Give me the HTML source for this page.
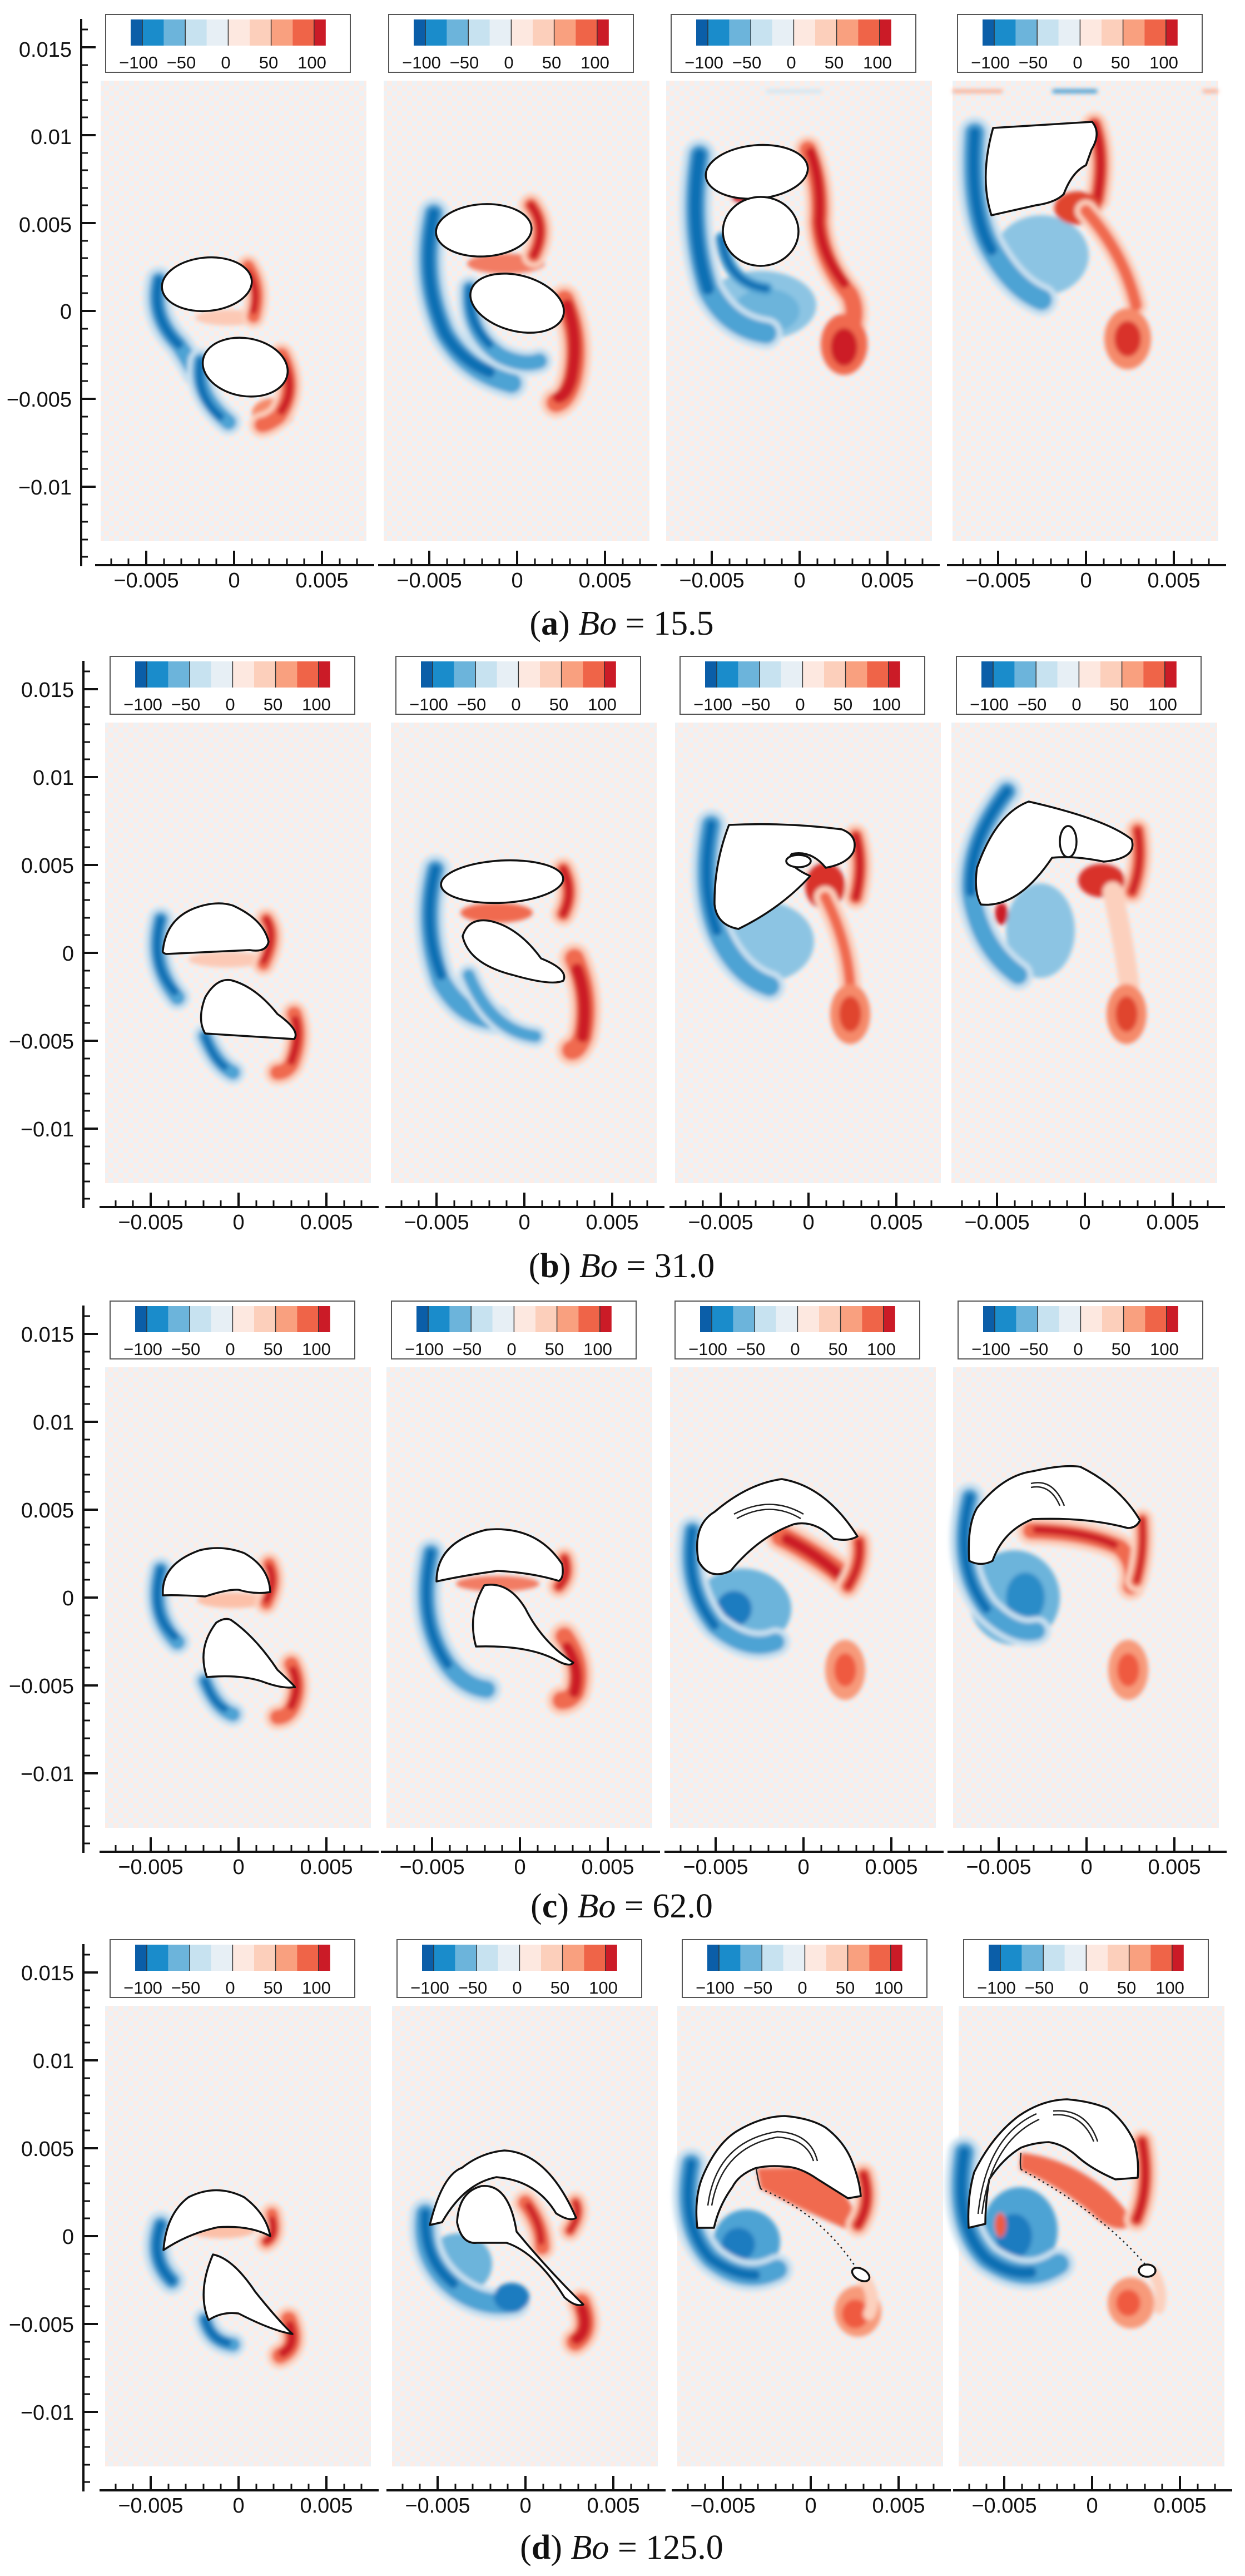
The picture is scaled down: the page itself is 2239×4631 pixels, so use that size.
<!DOCTYPE html>
<html><head><meta charset="utf-8"><style>
html,body{margin:0;padding:0;background:#fff}
svg{display:block}
.ax{fill:none;stroke:#111;stroke-width:4}
.tk{fill:none;stroke:#111;stroke-width:3}
.bo{fill:none;stroke:#c8e0f0;stroke-linecap:round;stroke-linejoin:round}
.bm{fill:none;stroke:#4ea3d4;stroke-linecap:round;stroke-linejoin:round}
.bi{fill:none;stroke:#0f6fb4;stroke-linecap:round;stroke-linejoin:round}
.ro{fill:none;stroke:#fcd0bd;stroke-linecap:round;stroke-linejoin:round}
.rm{fill:none;stroke:#f06a4f;stroke-linecap:round;stroke-linejoin:round}
.ri{fill:none;stroke:#cc1a26;stroke-linecap:round;stroke-linejoin:round}
.bub{fill:#fff;stroke:#111;stroke-width:3.5;stroke-linejoin:round}
.sl{fill:none;stroke:#222;stroke-width:2.5}
.dot{fill:none;stroke:#222;stroke-width:2.5;stroke-dasharray:3 6}
.lb{font-family:"Liberation Sans",sans-serif;font-size:38px;fill:#111}
.cl{font-family:"Liberation Sans",sans-serif;font-size:31px;fill:#111;text-anchor:middle}
.cap{font-family:"Liberation Serif",serif;font-size:62px;fill:#111;text-anchor:middle}
</style></head><body>
<svg width="2239" height="4631" viewBox="0 0 2239 4631" xmlns="http://www.w3.org/2000/svg">
<defs>
<pattern id="bg" width="18" height="18" patternUnits="userSpaceOnUse">
<rect width="18" height="18" fill="#ebf2f7"/>
<rect x="0" y="0" width="9" height="9" fill="#fdece5"/>
<rect x="9" y="9" width="9" height="9" fill="#fdece5"/>
</pattern>
<filter id="bl" x="-20%" y="-20%" width="140%" height="140%"><feGaussianBlur stdDeviation="4"/></filter>
<g id="xax">
<path class="ax" d="M-250 0H252"/>
<path class="tk" d="M-221 0v-12M-190 0v-12M-126 0v-12M-95 0v-12M-63 0v-12M-32 0v-12M32 0v-12M63 0v-12M95 0v-12M126 0v-12M190 0v-12M221 0v-12"/>
<path class="ax" d="M-158 0v-26M0 0v-26M158 0v-26"/>
</g>
<g id="yax">
<path class="ax" d="M0 -525V459"/>
<path class="tk" d="M0 -506h12M0 -442h12M0 -411h12M0 -379h12M0 -348h12M0 -284h12M0 -253h12M0 -221h12M0 -190h12M0 -126h12M0 -95h12M0 -63h12M0 -32h12M0 32h12M0 63h12M0 95h12M0 126h12M0 190h12M0 221h12M0 253h12M0 284h12M0 348h12M0 379h12M0 411h12M0 442h12"/>
<path class="ax" d="M0 -474h26M0 -316h26M0 -158h26M0 0h26M0 158h26M0 316h26"/>
</g>
<g id="cb">
<rect x="-231" y="-533" width="440" height="104" fill="#fff" stroke="#555" stroke-width="2"/>
<rect x="-186" y="-524" width="21" height="47" fill="#0b5ea8"/>
<rect x="-165" y="-524" width="38.6" height="47" fill="#1a8ccb"/>
<rect x="-126.4" y="-524" width="38.6" height="47" fill="#6cb4db"/>
<rect x="-87.8" y="-524" width="38.6" height="47" fill="#c7e2f0"/>
<rect x="-49.2" y="-524" width="38.6" height="47" fill="#e7eff5"/>
<rect x="-10.6" y="-524" width="38.6" height="47" fill="#fde8e0"/>
<rect x="28" y="-524" width="38.6" height="47" fill="#fccfbb"/>
<rect x="66.6" y="-524" width="38.6" height="47" fill="#f9a07f"/>
<rect x="105.2" y="-524" width="38.6" height="47" fill="#ef6448"/>
<rect x="143.8" y="-524" width="21" height="47" fill="#cb1b27"/>
<path d="M-165 -524v47M-87.8 -524v47M-10.6 -524v47M66.6 -524v47M143.8 -524v47" stroke="#333" stroke-width="1.5"/>
</g>
<g id="fr">
<rect x="-240" y="-414" width="478" height="828" fill="url(#bg)"/>
<use href="#cb"/>
<use href="#xax" y="457"/>
<text class="lb" x="-158" y="497" text-anchor="middle">−0.005</text>
<text class="lb" x="0" y="497" text-anchor="middle">0</text>
<text class="lb" x="158" y="497" text-anchor="middle">0.005</text>
<text class="cl" x="-172" y="-436">−100</text>
<text class="cl" x="-95" y="-436">−50</text>
<text class="cl" x="-15" y="-436">0</text>
<text class="cl" x="62" y="-436">50</text>
<text class="cl" x="140" y="-436">100</text>
</g>
</defs>

<g transform="translate(146,559)"><use href="#yax"/></g>
<g transform="translate(150,1713)"><use href="#yax"/></g>
<g transform="translate(150,2872)"><use href="#yax"/></g>
<g transform="translate(150,4020)"><use href="#yax"/></g>
<g class="lb" text-anchor="end">
<text x="129" y="102">0.015</text><text x="129" y="259">0.01</text><text x="129" y="417">0.005</text><text x="129" y="573">0</text><text x="129" y="731">−0.005</text><text x="129" y="889">−0.01</text>
<text x="133" y="1253">0.015</text><text x="133" y="1411">0.01</text><text x="133" y="1569">0.005</text><text x="133" y="1727">0</text><text x="133" y="1885">−0.005</text><text x="133" y="2043">−0.01</text>
<text x="133" y="2412">0.015</text><text x="133" y="2570">0.01</text><text x="133" y="2728">0.005</text><text x="133" y="2886">0</text><text x="133" y="3044">−0.005</text><text x="133" y="3202">−0.01</text>
<text x="133" y="3560">0.015</text><text x="133" y="3718">0.01</text><text x="133" y="3876">0.005</text><text x="133" y="4034">0</text><text x="133" y="4192">−0.005</text><text x="133" y="4350">−0.01</text>
</g>

<!-- ROW A -->
<g transform="translate(421,559)"><use href="#fr"/>
<g filter="url(#bl)">
<ellipse cx="-10" cy="12" rx="60" ry="14" fill="#fcc9b5"/>
<path class="bo" stroke-width="50" d="M-135 -55Q-150 10 -100 60Q-80 90 -70 110"/><path class="bm" stroke-width="30" d="M-135 -55Q-150 10 -100 60Q-80 90 -70 110"/><path class="bi" stroke-width="16" d="M-135 -55Q-150 10 -100 60"/>
<path class="bo" stroke-width="46" d="M-60 90Q-70 150 -10 200"/><path class="bm" stroke-width="28" d="M-60 90Q-70 150 -10 200"/><path class="bi" stroke-width="14" d="M-60 90Q-70 150 -25 190"/>
<path class="ro" stroke-width="42" d="M25 -80Q50 -40 35 10"/><path class="rm" stroke-width="24" d="M25 -80Q50 -40 35 10"/><path class="ri" stroke-width="12" d="M25 -70Q45 -40 35 0"/>
<ellipse cx="70" cy="185" rx="38" ry="28" fill="#f58a6a"/>
<path class="ro" stroke-width="46" d="M85 80Q115 140 80 190Q60 205 50 205"/><path class="rm" stroke-width="28" d="M85 80Q115 140 80 190Q60 205 50 205"/><path class="ri" stroke-width="14" d="M88 90Q112 140 85 180"/>
</g>
<ellipse class="bub" cx="-49" cy="-48" rx="81" ry="48" transform="rotate(-5 -49 -48)"/>
<ellipse class="bub" cx="20" cy="101" rx="77" ry="52" transform="rotate(10 20 101)"/>
</g>

<g transform="translate(930,559)"><use href="#fr"/>
<g filter="url(#bl)">
<ellipse cx="-20" cy="-85" rx="70" ry="18" fill="#f27c64"/>
<path class="bo" stroke-width="56" d="M-150 -175Q-175 -60 -130 40Q-90 110 -10 130"/><path class="bm" stroke-width="36" d="M-150 -175Q-175 -60 -130 40Q-90 110 -10 130"/><path class="bi" stroke-width="20" d="M-150 -175Q-175 -60 -130 40Q-100 90 -50 110"/>
<path class="bo" stroke-width="46" d="M-85 -40Q-90 40 -30 80Q10 100 40 90"/><path class="bm" stroke-width="28" d="M-85 -40Q-90 40 -30 80Q10 100 40 90"/><path class="bi" stroke-width="14" d="M-85 -40Q-90 20 -50 60"/>
<path class="ro" stroke-width="44" d="M25 -190Q55 -150 30 -100"/><path class="rm" stroke-width="26" d="M25 -190Q55 -150 30 -100"/><path class="ri" stroke-width="14" d="M25 -190Q55 -150 30 -100"/>
<path class="ro" stroke-width="56" d="M85 -20Q115 50 100 120Q90 160 70 165"/><path class="rm" stroke-width="36" d="M85 -20Q115 50 100 120Q90 160 70 165"/><path class="ri" stroke-width="22" d="M90 -10Q112 50 98 120Q90 150 75 155"/>
</g>
<ellipse class="bub" cx="-60" cy="-145" rx="86" ry="47" transform="rotate(-3 -60 -145)"/>
<ellipse class="bub" cx="0" cy="-14" rx="86" ry="50" transform="rotate(15 0 -14)"/>
</g>

<g transform="translate(1438,559)"><use href="#fr"/>
<g filter="url(#bl)">
<ellipse cx="-70" cy="-10" rx="100" ry="62" fill="#8cc4e3"/>
<ellipse cx="-60" cy="0" rx="60" ry="40" fill="#6cb4db"/>
<path class="bo" stroke-width="58" d="M-180 -280Q-200 -150 -165 -40Q-130 30 -60 40"/><path class="bm" stroke-width="38" d="M-180 -280Q-200 -150 -165 -40Q-130 30 -60 40"/><path class="bi" stroke-width="22" d="M-180 -280Q-200 -150 -165 -40"/>
<path class="bm" stroke-width="24" d="M-140 -130Q-130 -50 -60 -40"/><path class="bi" stroke-width="12" d="M-140 -130Q-130 -50 -60 -40"/>
<path class="ro" stroke-width="50" d="M15 -290Q40 -230 35 -160Q40 -90 90 -30Q110 10 80 60"/><path class="rm" stroke-width="32" d="M15 -290Q40 -230 35 -160Q40 -90 90 -30Q110 10 80 60"/><path class="ri" stroke-width="18" d="M20 -285Q40 -230 35 -160Q40 -100 80 -50"/>
<ellipse cx="80" cy="60" rx="42" ry="55" fill="#f06a4f"/><ellipse cx="80" cy="65" rx="24" ry="34" fill="#cc1a26"/>
<ellipse cx="-105" cy="-205" rx="16" ry="10" fill="#cc1a26"/>
<path d="M-60 -395H40" stroke="#c7e2f0" stroke-width="5"/>
</g>
<ellipse class="bub" cx="-77" cy="-250" rx="92" ry="48" transform="rotate(-5 -77 -250)"/>
<ellipse class="bub" cx="-70" cy="-143" rx="68" ry="62"/>
</g>

<g transform="translate(1953,559)"><use href="#fr"/>
<g filter="url(#bl)">
<path d="M-240 -395H-150" stroke="#f79a7a" stroke-width="5"/><path d="M-60 -395H20" stroke="#2b8cc8" stroke-width="6"/><path d="M210 -395H238" stroke="#f79a7a" stroke-width="5"/>
<ellipse cx="-80" cy="-100" rx="85" ry="72" fill="#8cc4e3"/>
<path class="bo" stroke-width="58" d="M-200 -320Q-210 -180 -170 -110Q-130 -40 -80 -20"/><path class="bm" stroke-width="38" d="M-200 -320Q-210 -180 -170 -110Q-130 -40 -80 -20"/><path class="bi" stroke-width="20" d="M-200 -320Q-210 -180 -170 -110"/>
<path class="ro" stroke-width="46" d="M15 -335Q35 -280 20 -200"/><path class="rm" stroke-width="28" d="M15 -335Q35 -280 20 -200"/><path class="ri" stroke-width="16" d="M15 -335Q35 -280 20 -200"/>
<ellipse cx="-15" cy="-185" rx="42" ry="30" fill="#e0452f"/>
<path class="ro" stroke-width="40" d="M0 -180Q70 -100 90 -10"/><path class="rm" stroke-width="22" d="M0 -180Q70 -100 90 -10"/>
<ellipse cx="75" cy="50" rx="42" ry="55" fill="#f58a6a"/><ellipse cx="75" cy="50" rx="24" ry="32" fill="#d9302b"/>
</g>
<path class="bub" d="M-167 -329L11 -340Q28 -320 10 -290L0 -262Q-25 -250 -40 -210Q-55 -195 -90 -190L-170 -172Q-192 -240 -167 -329Z"/>
</g>

<!-- ROW B -->
<g transform="translate(429,1713)"><use href="#fr"/>
<g filter="url(#bl)">
<ellipse cx="-20" cy="12" rx="70" ry="14" fill="#fcc9b5"/>
<path class="bo" stroke-width="46" d="M-140 -60Q-160 20 -110 80"/><path class="bm" stroke-width="28" d="M-140 -60Q-160 20 -110 80"/><path class="bi" stroke-width="14" d="M-140 -60Q-160 20 -115 70"/>
<path class="bo" stroke-width="44" d="M-60 150Q-40 200 -10 215"/><path class="bm" stroke-width="26" d="M-60 150Q-40 200 -10 215"/><path class="bi" stroke-width="12" d="M-60 150Q-45 190 -25 205"/>
<path class="ro" stroke-width="42" d="M50 -60Q70 -30 45 20"/><path class="rm" stroke-width="24" d="M50 -60Q70 -30 45 20"/><path class="ri" stroke-width="12" d="M50 -60Q68 -30 45 15"/>
<path class="ro" stroke-width="46" d="M100 110Q115 150 95 200Q85 215 70 215"/><path class="rm" stroke-width="28" d="M100 110Q115 150 95 200Q85 215 70 215"/><path class="ri" stroke-width="14" d="M102 120Q112 150 95 195"/>
</g>
<path class="bub" d="M-136 -5Q-130 -60 -80 -80Q-40 -95 -10 -85Q45 -60 54 -20Q50 0 20 -5L-130 2Q-138 0 -136 -5Z"/>
<path class="bub" d="M-14 49Q30 60 70 110Q112 140 100 155L-60 145Q-75 120 -60 80Q-40 45 -14 49Z"/>
</g>

<g transform="translate(943,1713)"><use href="#fr"/>
<g filter="url(#bl)">
<ellipse cx="-50" cy="-72" rx="65" ry="18" fill="#f06a4f"/>
<path class="bo" stroke-width="54" d="M-160 -150Q-185 -50 -150 50Q-110 120 -50 120"/><path class="bm" stroke-width="34" d="M-160 -150Q-185 -50 -150 50Q-110 120 -50 120"/><path class="bi" stroke-width="18" d="M-160 -150Q-185 -50 -150 40"/>
<path class="bo" stroke-width="40" d="M-100 40Q-60 140 20 150"/><path class="bm" stroke-width="22" d="M-100 40Q-60 140 20 150"/>
<path class="ro" stroke-width="44" d="M70 -150Q90 -110 70 -70"/><path class="rm" stroke-width="26" d="M70 -150Q90 -110 70 -70"/><path class="ri" stroke-width="14" d="M70 -150Q90 -110 70 -70"/>
<path class="ro" stroke-width="56" d="M90 10Q120 80 105 150Q95 175 85 175"/><path class="rm" stroke-width="36" d="M90 10Q120 80 105 150Q95 175 85 175"/><path class="ri" stroke-width="22" d="M95 30Q115 80 105 150"/>
</g>
<ellipse class="bub" cx="-40" cy="-128" rx="110" ry="38" transform="rotate(-3 -40 -128)"/>
<path class="bub" d="M-111 -30Q-100 -65 -60 -57Q-10 -45 30 10Q80 30 70 50Q50 60 -20 40Q-100 20 -111 -30Z"/>
</g>

<g transform="translate(1454,1713)"><use href="#fr"/>
<g filter="url(#bl)">
<ellipse cx="-80" cy="-20" rx="90" ry="72" fill="#8cc4e3"/>
<path class="bo" stroke-width="56" d="M-175 -230Q-195 -120 -165 -40Q-130 40 -70 60"/><path class="bm" stroke-width="36" d="M-175 -230Q-195 -120 -165 -40Q-130 40 -70 60"/><path class="bi" stroke-width="18" d="M-175 -230Q-195 -120 -165 -40"/>
<path class="ro" stroke-width="44" d="M85 -210Q100 -160 85 -100"/><path class="rm" stroke-width="26" d="M85 -210Q100 -160 85 -100"/><path class="ri" stroke-width="14" d="M85 -210Q100 -160 85 -100"/>
<ellipse cx="30" cy="-120" rx="36" ry="42" fill="#d9302b"/>
<path class="ro" stroke-width="40" d="M30 -100Q70 -20 75 60"/><path class="rm" stroke-width="20" d="M30 -100Q70 -20 75 60"/>
<ellipse cx="75" cy="110" rx="36" ry="54" fill="#f58a6a"/><ellipse cx="75" cy="110" rx="20" ry="32" fill="#e0452f"/>
</g>
<path class="bub" d="M-143 -230Q-40 -235 60 -222Q90 -210 81 -182Q70 -160 31 -153Q5 -185 -30 -178Q-45 -160 3 -138Q-50 -80 -126 -43Q-165 -50 -169 -87Q-170 -160 -143 -230Z"/>
<ellipse class="bub" cx="-18" cy="-165" rx="22" ry="11"/>
</g>

<g transform="translate(1951,1713)"><use href="#fr"/>
<g filter="url(#bl)">
<ellipse cx="-80" cy="-40" rx="62" ry="85" fill="#8cc4e3"/>
<path class="bo" stroke-width="54" d="M-140 -290Q-210 -200 -205 -110Q-190 -10 -120 40"/><path class="bm" stroke-width="34" d="M-140 -290Q-210 -200 -205 -110Q-190 -10 -120 40"/><path class="bi" stroke-width="18" d="M-140 -290Q-210 -200 -205 -110"/>
<path class="ro" stroke-width="44" d="M95 -220Q105 -160 85 -110"/><path class="rm" stroke-width="26" d="M95 -220Q105 -160 85 -110"/><path class="ri" stroke-width="12" d="M95 -220Q105 -160 85 -110"/>
<ellipse cx="30" cy="-130" rx="42" ry="30" fill="#d9302b"/>
<ellipse cx="-150" cy="-70" rx="12" ry="20" fill="#cc1a26"/>
<path class="ro" stroke-width="36" d="M50 -110Q70 -20 80 60"/>
<ellipse cx="75" cy="110" rx="36" ry="54" fill="#f58a6a"/><ellipse cx="75" cy="110" rx="20" ry="32" fill="#e0452f"/>
</g>
<path class="bub" d="M-101 -272Q40 -240 84 -204Q95 -170 34 -164Q-20 -175 -59 -171Q-120 -80 -187 -87Q-200 -110 -194 -153Q-160 -250 -101 -272Z"/>
<ellipse class="bub" cx="-30" cy="-200" rx="15" ry="28"/>
</g>

<!-- ROW C -->
<g transform="translate(429,2872)"><use href="#fr"/>
<g filter="url(#bl)">
<ellipse cx="-10" cy="5" rx="65" ry="14" fill="#fcc0a8"/>
<path class="bo" stroke-width="46" d="M-140 -50Q-160 30 -110 80"/><path class="bm" stroke-width="28" d="M-140 -50Q-160 30 -110 80"/><path class="bi" stroke-width="14" d="M-140 -50Q-160 30 -115 70"/>
<path class="bo" stroke-width="44" d="M-60 150Q-40 200 -10 210"/><path class="bm" stroke-width="26" d="M-60 150Q-40 200 -10 210"/><path class="bi" stroke-width="12" d="M-60 150Q-45 190 -25 200"/>
<path class="ro" stroke-width="42" d="M55 -60Q70 -30 50 10"/><path class="rm" stroke-width="24" d="M55 -60Q70 -30 50 10"/><path class="ri" stroke-width="12" d="M55 -55Q68 -30 50 5"/>
<path class="ro" stroke-width="46" d="M95 120Q115 160 95 200Q85 215 70 215"/><path class="rm" stroke-width="28" d="M95 120Q115 160 95 200Q85 215 70 215"/><path class="ri" stroke-width="14" d="M98 130Q112 160 95 195"/>
</g>
<path class="bub" d="M-136 -4Q-140 -60 -70 -85Q-30 -95 10 -80Q55 -55 57 -10Q30 -5 0 -14Q-20 -15 -60 -2Q-110 -5 -136 -4Z"/>
<path class="bub" d="M-14 40Q30 70 70 130Q108 165 100 161Q80 165 40 150Q0 138 -57 143Q-75 90 -40 45Q-25 35 -14 40Z"/>
</g>

<g transform="translate(935,2872)"><use href="#fr"/>
<g filter="url(#bl)">
<ellipse cx="-40" cy="-25" rx="75" ry="14" fill="#f27c64"/>
<path class="bo" stroke-width="52" d="M-160 -80Q-185 40 -130 120Q-100 160 -60 165"/><path class="bm" stroke-width="32" d="M-160 -80Q-185 40 -130 120Q-100 160 -60 165"/><path class="bi" stroke-width="16" d="M-160 -80Q-185 40 -130 120"/>
<path class="ro" stroke-width="42" d="M80 -70Q90 -40 70 -20"/><path class="rm" stroke-width="24" d="M80 -70Q90 -40 70 -20"/><path class="ri" stroke-width="12" d="M80 -70Q90 -40 70 -20"/>
<path class="ro" stroke-width="54" d="M80 70Q115 120 100 170Q90 185 75 185"/><path class="rm" stroke-width="34" d="M80 70Q115 120 100 170Q90 185 75 185"/><path class="ri" stroke-width="20" d="M85 90Q110 130 98 170"/>
</g>
<path class="bub" d="M-150 -29Q-150 -100 -60 -122Q30 -130 76 -60Q80 -35 70 -30Q20 -45 -40 -48Q-100 -40 -150 -29Z"/>
<path class="bub" d="M-64 -22Q-20 -30 10 20Q40 80 96 117Q90 125 70 115Q20 85 -79 88Q-95 30 -64 -22Z"/>
</g>

<g transform="translate(1445,2872)"><use href="#fr"/>
<g filter="url(#bl)">
<ellipse cx="-110" cy="20" rx="88" ry="72" fill="#6cb4db"/>
<ellipse cx="-125" cy="20" rx="32" ry="32" fill="#1a7cc0"/>
<path class="bo" stroke-width="52" d="M-200 -120Q-215 -20 -160 50Q-100 100 -50 80"/><path class="bm" stroke-width="32" d="M-200 -120Q-215 -20 -160 50Q-100 100 -50 80"/><path class="bi" stroke-width="16" d="M-200 -120Q-215 -20 -160 50"/>
<path class="ro" stroke-width="58" d="M-40 -110Q20 -80 70 -40"/><path class="rm" stroke-width="38" d="M-40 -110Q20 -80 70 -40"/><path class="ri" stroke-width="20" d="M-30 -105Q20 -80 60 -45"/>
<path class="ro" stroke-width="44" d="M100 -100Q105 -60 80 -20"/><path class="rm" stroke-width="26" d="M100 -100Q105 -60 80 -20"/><path class="ri" stroke-width="12" d="M100 -100Q105 -60 80 -20"/>
<ellipse cx="75" cy="130" rx="36" ry="54" fill="#f79a7a"/><ellipse cx="75" cy="130" rx="20" ry="30" fill="#ef5a3f"/>
</g>
<path class="bub" d="M-189 -66Q-200 -130 -160 -154Q-100 -205 -39 -213Q40 -200 97 -110Q80 -100 54 -106Q20 -140 -17 -132Q-80 -110 -131 -48Q-170 -30 -189 -66Z"/>
<path class="sl" d="M-125 -150Q-60 -185 0 -150M-120 -142Q-60 -175 -5 -142"/>
</g>

<g transform="translate(1954,2872)"><use href="#fr"/>
<g filter="url(#bl)">
<ellipse cx="-130" cy="0" rx="82" ry="85" fill="#6cb4db"/>
<ellipse cx="-110" cy="0" rx="35" ry="45" fill="#2b8cc8"/>
<path class="bo" stroke-width="52" d="M-210 -180Q-240 -60 -180 20Q-130 70 -90 60"/><path class="bm" stroke-width="32" d="M-210 -180Q-240 -60 -180 20Q-130 70 -90 60"/><path class="bi" stroke-width="16" d="M-210 -180Q-240 -60 -180 20"/>
<path class="ro" stroke-width="50" d="M-100 -120Q0 -118 60 -90Q90 -60 80 -20"/><path class="rm" stroke-width="30" d="M-100 -120Q0 -118 60 -90Q90 -60 80 -20"/><path class="ri" stroke-width="14" d="M-90 -122Q0 -118 50 -95"/>
<path class="ro" stroke-width="40" d="M100 -140Q105 -80 90 -30"/><path class="rm" stroke-width="22" d="M100 -140Q105 -80 90 -30"/><path class="ri" stroke-width="10" d="M100 -140Q105 -80 90 -30"/>
<ellipse cx="75" cy="130" rx="36" ry="54" fill="#f79a7a"/><ellipse cx="75" cy="130" rx="20" ry="30" fill="#ef5a3f"/>
</g>
<path class="bub" d="M-211 -66Q-215 -130 -197 -161Q-150 -220 -97 -227Q-40 -240 -11 -235Q60 -200 96 -139Q90 -125 74 -125Q0 -145 -97 -141Q-150 -120 -169 -66Q-190 -55 -211 -66Z"/>
<path class="sl" d="M-100 -205Q-60 -215 -40 -165M-100 -198Q-65 -205 -48 -165"/>
</g>

<!-- ROW D -->
<g transform="translate(429,4020)"><use href="#fr"/>
<g filter="url(#bl)">
<ellipse cx="-30" cy="-10" rx="60" ry="14" fill="#fcc0a8"/>
<path class="bo" stroke-width="50" d="M-140 -20Q-160 40 -120 80"/><path class="bm" stroke-width="30" d="M-140 -20Q-160 40 -120 80"/><path class="bi" stroke-width="16" d="M-140 -20Q-160 40 -120 80"/>
<path class="bo" stroke-width="44" d="M-60 150Q-50 190 -10 195"/><path class="bm" stroke-width="26" d="M-60 150Q-50 190 -10 195"/><path class="bi" stroke-width="14" d="M-60 150Q-50 185 -20 192"/>
<path class="ro" stroke-width="40" d="M60 -40Q70 0 50 10"/><path class="rm" stroke-width="22" d="M60 -40Q70 0 50 10"/><path class="ri" stroke-width="12" d="M60 -30Q68 0 50 8"/>
<path class="ro" stroke-width="48" d="M90 150Q110 200 75 215"/><path class="rm" stroke-width="30" d="M90 150Q110 200 75 215"/><path class="ri" stroke-width="16" d="M92 160Q105 195 80 210"/>
</g>
<path class="bub" d="M-135 25Q-130 -40 -90 -70Q-40 -95 10 -70Q50 -40 57 0Q20 -20 -37 -16Q-90 -5 -135 25Z"/>
<path class="bub" d="M-46 33Q-10 40 30 100Q70 150 97 176Q60 170 0 139Q-30 135 -54 151Q-75 100 -46 33Z"/>
</g>

<g transform="translate(945,4020)"><use href="#fr"/>
<g filter="url(#bl)">
<ellipse cx="-120" cy="50" rx="60" ry="55" fill="#6cb4db"/>
<path class="bo" stroke-width="56" d="M-180 -40Q-190 40 -130 90Q-80 130 -20 120"/><path class="bm" stroke-width="36" d="M-180 -40Q-190 40 -130 90Q-80 130 -20 120"/><path class="bi" stroke-width="18" d="M-180 -40Q-185 40 -130 85"/>
<ellipse cx="-25" cy="110" rx="32" ry="26" fill="#1a7cc0"/>
<path class="ro" stroke-width="46" d="M0 -60Q30 -20 30 20"/><path class="rm" stroke-width="28" d="M0 -60Q30 -20 30 20"/><path class="ri" stroke-width="12" d="M5 -55Q28 -20 28 10"/>
<path class="ro" stroke-width="40" d="M90 -60Q100 -40 80 -10"/><path class="rm" stroke-width="22" d="M90 -60Q100 -40 80 -10"/><path class="ri" stroke-width="10" d="M90 -60Q100 -40 80 -10"/>
<path class="ro" stroke-width="52" d="M100 120Q120 170 90 190"/><path class="rm" stroke-width="34" d="M100 120Q120 170 90 190"/><path class="ri" stroke-width="20" d="M102 130Q115 170 92 185"/>
</g>
<path class="bub" d="M-172 -20Q-150 -110 -114 -123Q-80 -150 -38 -154Q40 -150 91 -33Q80 -25 55 -41Q20 -100 -52 -106Q-110 -95 -150 -25Z"/>
<path class="bub" d="M-123 -25Q-120 -80 -79 -90Q-30 -95 -16 -8Q40 60 104 123Q90 128 70 110Q20 30 -34 12L-87 12Q-115 15 -123 -25Z"/>
</g>

<g transform="translate(1458,4020)"><use href="#fr"/>
<g filter="url(#bl)">
<ellipse cx="-115" cy="10" rx="60" ry="58" fill="#4ea3d4"/>
<ellipse cx="-130" cy="15" rx="30" ry="30" fill="#1a7cc0"/>
<path class="bo" stroke-width="56" d="M-215 -130Q-235 -20 -180 40Q-120 90 -60 60"/><path class="bm" stroke-width="36" d="M-215 -130Q-235 -20 -180 40Q-120 90 -60 60"/><path class="bi" stroke-width="18" d="M-215 -130Q-235 -20 -180 40Q-140 70 -100 70"/>
<path d="M-97 -122L10 -125Q60 -90 80 -40Q100 -10 70 -10Q0 -40 -90 -85Z" fill="#f06a4f"/>
<path class="ro" stroke-width="44" d="M95 -110Q110 -60 85 -20"/><path class="rm" stroke-width="26" d="M95 -110Q110 -60 85 -20"/><path class="ri" stroke-width="14" d="M95 -110Q110 -60 85 -20"/>
<ellipse cx="85" cy="135" rx="42" ry="46" fill="#f79a7a"/><ellipse cx="80" cy="140" rx="24" ry="26" fill="#ef5a3f"/>
<path class="ro" stroke-width="22" d="M95 75Q120 110 105 140"/>
</g>
<path class="bub" d="M-204 -15Q-210 -70 -194 -108Q-170 -165 -134 -188Q-90 -215 -47 -216Q0 -212 27 -195Q60 -170 74 -135Q88 -100 90 -72L67 -68Q40 -85 13 -102Q-20 -125 -47 -125Q-75 -128 -100 -122Q-130 -110 -141 -88Q-165 -55 -174 -15Z"/>
<path class="sl" d="M-185 -55Q-170 -170 -60 -188Q0 -185 12 -135M-178 -55Q-160 -160 -60 -178Q-8 -175 5 -135"/>
<path class="sl" d="M-98 -122Q-95 -100 -90 -85"/>
<path class="dot" d="M-90 -85Q20 -40 85 62"/>
<ellipse class="bub" cx="90" cy="69" rx="17" ry="10" transform="rotate(30 90 69)"/>
</g>

<g transform="translate(1964,4020)"><use href="#fr"/>
<g filter="url(#bl)">
<ellipse cx="-130" cy="-10" rx="68" ry="78" fill="#4ea3d4"/>
<ellipse cx="-140" cy="0" rx="32" ry="40" fill="#1a7cc0"/>
<path class="bo" stroke-width="58" d="M-230 -150Q-250 -20 -190 40Q-120 90 -60 50"/><path class="bm" stroke-width="38" d="M-230 -150Q-250 -20 -190 40Q-120 90 -60 50"/><path class="bi" stroke-width="20" d="M-230 -150Q-250 -20 -190 40Q-150 70 -110 65"/>
<path d="M-128 -150Q-40 -140 30 -80Q70 -40 75 -20Q40 0 0 -40Q-60 -90 -130 -120Z" fill="#f06a4f"/>
<ellipse cx="-165" cy="-20" rx="10" ry="22" fill="#ef5a3f"/>
<path class="ro" stroke-width="44" d="M90 -170Q105 -90 80 -30"/><path class="rm" stroke-width="26" d="M90 -170Q105 -90 80 -30"/><path class="ri" stroke-width="14" d="M90 -170Q105 -90 80 -30"/>
<ellipse cx="70" cy="120" rx="42" ry="46" fill="#f79a7a"/><ellipse cx="65" cy="120" rx="22" ry="24" fill="#ef5a3f"/>
<path class="ro" stroke-width="20" d="M110 65Q130 100 120 130"/>
</g>
<path class="bub" d="M-222 -15Q-225 -70 -212 -115Q-180 -180 -132 -216Q-90 -245 -45 -246Q0 -242 29 -229Q60 -205 76 -169Q85 -135 82 -105L42 -102Q0 -120 -25 -142Q-50 -165 -78 -169Q-105 -168 -128 -159Q-160 -140 -185 -102Q-192 -60 -192 -22Z"/>
<path class="sl" d="M-205 -40Q-190 -180 -100 -220M-198 -40Q-182 -170 -95 -210M-70 -225Q-10 -230 10 -170M-70 -218Q-18 -222 3 -170"/>
<path class="sl" d="M-128 -150Q-130 -130 -128 -120"/>
<path class="dot" d="M-128 -120Q20 -40 99 55"/>
<ellipse class="bub" cx="99" cy="62" rx="15" ry="11"/>
</g>

<text class="cap" x="1118" y="1141">(<tspan font-weight="bold">a</tspan>) <tspan font-style="italic">Bo</tspan> = 15.5</text>
<text class="cap" x="1118" y="2296">(<tspan font-weight="bold">b</tspan>) <tspan font-style="italic">Bo</tspan> = 31.0</text>
<text class="cap" x="1118" y="3447">(<tspan font-weight="bold">c</tspan>) <tspan font-style="italic">Bo</tspan> = 62.0</text>
<text class="cap" x="1118" y="4600">(<tspan font-weight="bold">d</tspan>) <tspan font-style="italic">Bo</tspan> = 125.0</text>
</svg>
</body></html>
